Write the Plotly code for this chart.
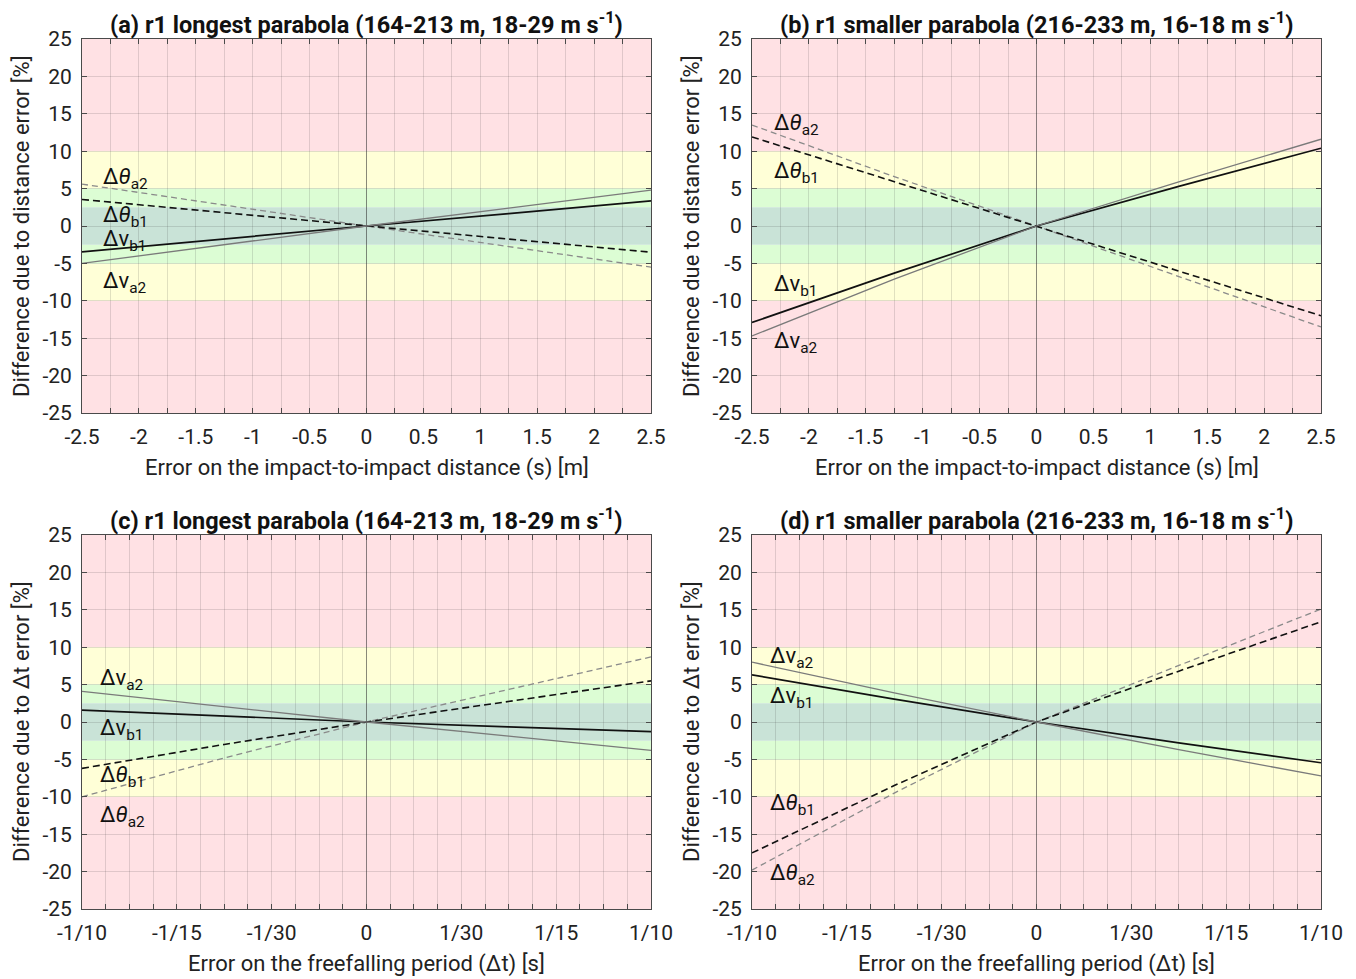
import plotly.graph_objects as go

# ---------------- data ----------------
s_err = [-2.5, -1.25, 0, 1.25, 2.5]          # m
dt_err = [-0.1, -0.05, 0, 0.05, 0.1]          # s

# (a) r1 longest parabola, distance error
a_theta_a2 = [5.6, 2.75, 0, -2.75, -5.5]
a_theta_b1 = [3.55, 1.75, 0, -1.75, -3.5]
a_v_b1 = [-3.45, -1.7, 0, 1.65, 3.35]
a_v_a2 = [-5.0, -2.45, 0, 2.4, 4.8]

# (b) r1 smaller parabola, distance error
b_theta_a2 = [13.5, 6.6, 0, -6.7, -13.5]
b_theta_b1 = [11.9, 5.9, 0, -6.0, -12.0]
b_v_b1 = [-12.9, -6.3, 0, 5.3, 10.4]
b_v_a2 = [-14.7, -7.1, 0, 5.9, 11.6]

# (c) r1 longest parabola, dt error
c_v_a2 = [4.1, 2.0, 0, -1.9, -3.8]
c_v_b1 = [1.6, 0.8, 0, -0.65, -1.3]
c_theta_b1 = [-6.2, -3.0, 0, 2.8, 5.5]
c_theta_a2 = [-10.0, -4.8, 0, 4.4, 8.7]

# (d) r1 smaller parabola, dt error
d_v_a2 = [8.0, 3.9, 0, -3.7, -7.2]
d_v_b1 = [6.3, 3.05, 0, -2.8, -5.45]
d_theta_b1 = [-17.5, -8.5, 0, 6.8, 13.4]
d_theta_a2 = [-19.8, -9.5, 0, 7.6, 15.1]

titles = [
    "<b>(a) r1 longest parabola (164-213 m, 18-29 m s<sup>-1</sup>)</b>",
    "<b>(b) r1 smaller parabola (216-233 m, 16-18 m s<sup>-1</sup>)</b>",
    "<b>(c) r1 longest parabola (164-213 m, 18-29 m s<sup>-1</sup>)</b>",
    "<b>(d) r1 smaller parabola (216-233 m, 16-18 m s<sup>-1</sup>)</b>",
]
ytitles = ["Difference due to distance error [%]", "Difference due to distance error [%]",
           "Difference due to Δt error [%]", "Difference due to Δt error [%]"]
xtitles = ["Error on the impact-to-impact distance (s) [m]", "Error on the impact-to-impact distance (s) [m]",
           "Error on the freefalling period (Δt) [s]", "Error on the freefalling period (Δt) [s]"]

s_tickvals = [i * 0.25 - 2.5 for i in range(21)]
s_ticktext = ["-2.5", "", "-2", "", "-1.5", "", "-1", "", "-0.5", "", "0", "", "0.5", "", "1", "",
              "1.5", "", "2", "", "2.5"]
dt_tickvals = [(i - 12) / 120 for i in range(25)]
dt_labels = {-12: "-1/10", -8: "-1/15", -4: "-1/30", 0: "0", 4: "1/30", 8: "1/15", 12: "1/10"}
dt_ticktext = [dt_labels.get(i - 12, "") for i in range(25)]

y_ticks = [-25, -20, -15, -10, -5, 0, 5, 10, 15, 20, 25]
y_ticktext = ["-25", "-20", "-15", "-10", "-5", "0", "5", "10", "15", "20", "25"]

# label positions (text, x, y) per panel
labels = [
    [("Δ<i>θ</i><sub>a2</sub>", -2.33, 6.4), ("Δ<i>θ</i><sub>b1</sub>", -2.33, 1.3),
     ("Δv<sub>b1</sub>", -2.33, -1.9), ("Δv<sub>a2</sub>", -2.33, -7.6)],
    [("Δ<i>θ</i><sub>a2</sub>", -2.325, 13.6), ("Δ<i>θ</i><sub>b1</sub>", -2.325, 7.2),
     ("Δv<sub>b1</sub>", -2.325, -8.0), ("Δv<sub>a2</sub>", -2.325, -15.6)],
    [("Δv<sub>a2</sub>", -0.0944, 5.7), ("Δv<sub>b1</sub>", -0.0944, -1.05),
     ("Δ<i>θ</i><sub>b1</sub>", -0.0944, -7.3), ("Δ<i>θ</i><sub>a2</sub>", -0.0944, -12.65)],
    [("Δv<sub>a2</sub>", -0.0943, 8.6), ("Δv<sub>b1</sub>", -0.0943, 3.25),
     ("Δ<i>θ</i><sub>b1</sub>", -0.0943, -11.05), ("Δ<i>θ</i><sub>a2</sub>", -0.0943, -20.4)],
]

# ---------------- styling ----------------
OFF = 8                      # default page body margin
W, H = 1356 - OFF, 979 - OFF
FONT = "Roboto, Arial, sans-serif"
xpx = [(82 - OFF, 651 - OFF), (752 - OFF, 1321 - OFF)]
ypx = [(39 - OFF, 413 - OFF), (535 - OFF, 909 - OFF)]
xdom = [(a / W, b / W) for a, b in xpx]
ydom = [(1 - b / H, 1 - a / H) for a, b in ypx]

band_colors = [
    (10, 25, "#ffe1e4"), (-25, -10, "#ffe1e4"),
    (5, 10, "#ffffd7"), (-10, -5, "#ffffd7"),
    (2.5, 5, "#dcfdd4"), (-5, -2.5, "#dcfdd4"),
    (-2.5, 2.5, "#c9e3d7"),
]

fig = go.Figure()

panels = [
    (s_err, [(a_theta_a2, "gd"), (a_theta_b1, "kd"), (a_v_b1, "ks"), (a_v_a2, "gs")]),
    (s_err, [(b_theta_a2, "gd"), (b_theta_b1, "kd"), (b_v_b1, "ks"), (b_v_a2, "gs")]),
    (dt_err, [(c_theta_a2, "gd"), (c_theta_b1, "kd"), (c_v_b1, "ks"), (c_v_a2, "gs")]),
    (dt_err, [(d_theta_a2, "gd"), (d_theta_b1, "kd"), (d_v_b1, "ks"), (d_v_a2, "gs")]),
]
styles = {
    "gd": dict(color="#8a8a8a", width=1.3, dash="6px,4px"),
    "kd": dict(color="#111111", width=1.6, dash="7px,4px"),
    "ks": dict(color="#111111", width=1.7, dash="solid"),
    "gs": dict(color="#7a7a7a", width=1.3, dash="solid"),
}

layout = {}
for i, (xs, series) in enumerate(panels):
    n = "" if i == 0 else str(i + 1)
    xa, ya = "x" + n, "y" + n
    col, row = i % 2, i // 2
    is_s = i < 2
    for ys, st in series:
        fig.add_trace(go.Scatter(x=xs, y=ys, mode="lines", line=styles[st],
                                 xaxis=xa, yaxis=ya, showlegend=False, hoverinfo="skip"))
    for y0, y1, c in band_colors:
        fig.add_shape(type="rect", xref=xa + " domain", yref=ya, x0=0, x1=1, y0=y0, y1=y1,
                      fillcolor=c, line_width=0, layer="below")
    common = dict(showline=True, linecolor="#4a4a4a", linewidth=1, mirror="ticks",
                  ticks="inside", ticklen=5, tickcolor="#4a4a4a", tickwidth=1,
                  showgrid=True, gridcolor="rgba(60,60,60,0.16)", gridwidth=1,
                  automargin=False,
                  tickfont=dict(family=FONT, size=21, color="#222"))
    layout["xaxis" + n] = dict(
        common, domain=xdom[col], anchor=ya,
        range=[-2.5, 2.5] if is_s else [-0.1, 0.1],
        tickmode="array",
        tickvals=s_tickvals if is_s else dt_tickvals,
        ticktext=s_ticktext if is_s else dt_ticktext,
        zeroline=True, zerolinecolor="rgba(40,40,40,0.55)", zerolinewidth=1,
        ticklabelstandoff=5,
    )
    layout["yaxis" + n] = dict(
        common, domain=ydom[row], anchor=xa, range=[-25, 25],
        tickmode="array", tickvals=y_ticks, ticktext=y_ticktext, zeroline=False,
        ticklabelstandoff=5,
    )
    x0p, x1p = xpx[col]
    y0p, y1p = ypx[row]
    # panel title
    fig.add_annotation(text=titles[i], xref="paper", yref="paper",
                       x=(x0p + x1p) / 2 / W, y=1 - (y0p + 2) / H,
                       xanchor="center", yanchor="bottom",
                       showarrow=False, font=dict(family=FONT, size=23.5, color="#111"))
    # x axis title
    fig.add_annotation(text=xtitles[i], xref="paper", yref="paper",
                       x=(x0p + x1p) / 2 / W, y=1 - (y1p + 55) / H,
                       xanchor="center", yanchor="middle",
                       showarrow=False, font=dict(family=FONT, size=22, color="#222"))
    # y axis title
    fig.add_annotation(text=ytitles[i], xref="paper", yref="paper",
                       x=(x0p - 61) / W, y=1 - (y0p + y1p) / 2 / H, textangle=-90,
                       xanchor="center", yanchor="middle",
                       showarrow=False, font=dict(family=FONT, size=22, color="#222"))
    for txt, lx, ly in labels[i]:
        fig.add_annotation(text=txt, x=lx, y=ly, xref=xa, yref=ya, xanchor="left",
                           yanchor="middle", showarrow=False,
                           font=dict(family=FONT, size=22, color="#111"))

fig.update_layout(width=W, height=H, margin=dict(l=0, r=0, t=0, b=0),
                  paper_bgcolor="white", plot_bgcolor="white",
                  font=dict(family=FONT, color="#222"), **layout)

fig.write_html("out.html")
